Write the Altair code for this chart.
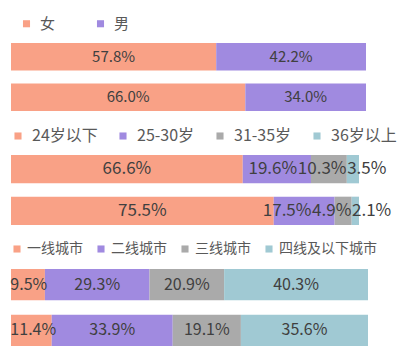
import altair as alt
import pandas as pd

gender_cats = ["女", "男"]
gender_vals = [[57.8, 42.2], [66.0, 34.0]]

age_cats = ["24岁以下", "25-30岁", "31-35岁", "36岁以上"]
age_vals = [[66.6, 19.6, 10.3, 3.5], [75.5, 17.5, 4.9, 2.1]]

city_cats = ["一线城市", "二线城市", "三线城市", "四线及以下城市"]
city_vals = [[9.5, 29.3, 20.9, 40.3], [11.4, 33.9, 19.1, 35.6]]

colors = ["#F9A186", "#A08AE0", "#AAAAAA", "#A0C9D3"]
FONT = "Noto Sans CJK SC"


def text_width(s, fs):
    w = 0.0
    for ch in s:
        if ch.isdigit():
            w += 0.555
        elif ch == ".":
            w += 0.27
        elif ch == "%":
            w += 0.85
        else:
            w += 0.6
    return w * fs


def build(cats, vals, w, fs):
    rows = []
    for r, vs in enumerate(vals):
        segs = []
        acc = 0.0
        for i, (c, v) in enumerate(zip(cats, vs)):
            lab = f"{v:.1f}%"
            tw = text_width(lab, fs)
            x0 = acc / 100 * w
            x1 = (acc + v) / 100 * w
            if v < 4:
                cx = x0 + 1 + tw / 2
            else:
                cx = (x0 + x1) / 2
            segs.append({"row": r, "cat": c, "idx": i, "value": v,
                         "label": lab, "tw": tw, "cx": cx})
            acc += v
        # resolve overlaps right-to-left (labels pushed left like Excel)
        for i in range(len(segs) - 2, -1, -1):
            left_next = segs[i + 1]["cx"] - segs[i + 1]["tw"] / 2
            if segs[i]["cx"] + segs[i]["tw"] / 2 > left_next - 2:
                segs[i]["cx"] = left_next - 2 - segs[i]["tw"] / 2
        if segs[0]["cx"] - segs[0]["tw"] / 2 < 0:
            segs[0]["cx"] = segs[0]["tw"] / 2
        for s in segs:
            s["lx"] = s["cx"] / w * 100
        rows.extend(segs)
    return pd.DataFrame(rows)


def panel(cats, vals, w, h, fs, lfs, legend_x, col_pad, lab_off):
    df = build(cats, vals, w, fs)
    base = alt.Chart(df).transform_stack(
        stack="value", groupby=["row"], as_=["x0", "x1"],
        sort=[alt.SortField("idx", order="ascending")]
    )

    y = alt.Y("row:O", axis=None,
              scale=alt.Scale(paddingInner=0.32, paddingOuter=0))
    xs = alt.Scale(domain=[0, 100], nice=False, zero=True)

    bars = base.mark_bar().encode(
        x=alt.X("x0:Q", scale=xs, axis=None),
        x2="x1:Q",
        y=y,
        color=alt.Color("cat:N", sort=cats,
                        scale=alt.Scale(domain=cats, range=colors[:len(cats)]),
                        legend=alt.Legend(title=None, orient="none",
                                          direction="horizontal",
                                          legendX=legend_x, legendY=-27,
                                          symbolType="square", symbolSize=50,
                                          symbolStrokeWidth=0,
                                          labelFont=FONT, labelFontSize=lfs,
                                          labelColor="#595959",
                                          columnPadding=col_pad,
                                          labelOffset=lab_off)),
    )
    labels = alt.Chart(df).mark_text(
        font=FONT, fontSize=fs, color="#404040", align="center",
        baseline="middle"
    ).encode(x=alt.X("lx:Q", scale=xs), y=y, text="label:N")
    return alt.layer(bars, labels).properties(width=w, height=h)


p1 = panel(gender_cats, gender_vals, 355, 68, 15, 15, 8, 37, 6)
p2 = panel(age_cats, age_vals, 348, 70, 17, 16, -1, 17, 6)
p3 = panel(city_cats, city_vals, 357, 77, 16, 14, -1, 11, 3)

chart = alt.vconcat(p1, p2, p3, spacing=17).resolve_scale(
    color="independent"
).properties(
    padding={"top": 16, "left": 10, "right": 0, "bottom": 0},
).configure_view(stroke=None)

chart.save("out.html", embed_options={"renderer": "svg", "actions": False})
